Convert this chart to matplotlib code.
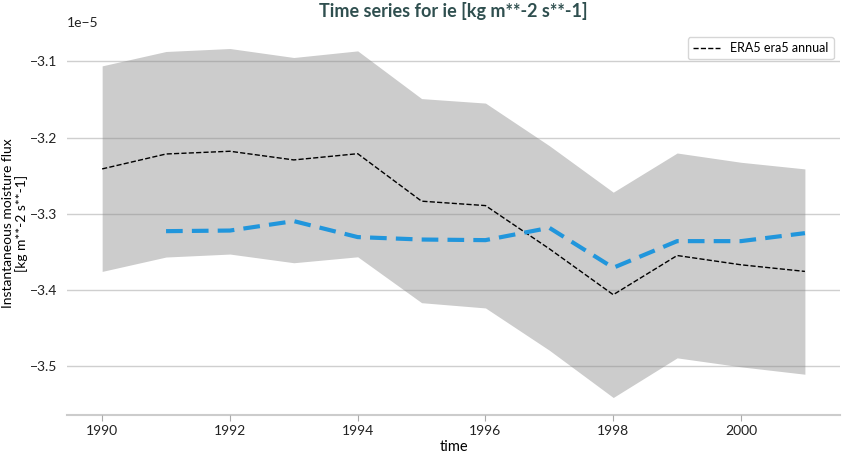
import matplotlib
matplotlib.use("Agg")
import matplotlib.pyplot as plt
import numpy as np

plt.rcParams['font.family'] = ['Lato', 'DejaVu Sans']

years = [1990, 1991, 1992, 1993, 1994, 1995, 1996, 1997, 1998, 1999, 2000, 2001]
era5 = [-3.2412, -3.2216, -3.2180, -3.2294, -3.2212, -3.2836, -3.2894, -3.3462,
        -3.4065, -3.3550, -3.3672, -3.3759]
band_upper = [-3.1058, -3.0869, -3.0830, -3.0948, -3.0861, -3.1488, -3.1547,
              -3.2107, -3.2718, -3.2203, -3.2325, -3.2412]
band_lower = [-3.3759, -3.3570, -3.3531, -3.3645, -3.3567, -3.4170, -3.4239,
              -3.4795, -3.5416, -3.4895, -3.5013, -3.5110]
model_years = [1991, 1992, 1993, 1994, 1995, 1996, 1997, 1998, 1999, 2000, 2001]
model = [-3.3230, -3.3222, -3.3098, -3.3308, -3.3340, -3.3348, -3.3186, -3.3711,
         -3.3361, -3.3361, -3.3256]
scale = 1e-5

fig = plt.figure(figsize=(8.43, 4.57), dpi=100)
ax = fig.add_axes([0.0795, 0.092, 0.917, 0.84])

ax.fill_between(years, np.array(band_lower) * scale, np.array(band_upper) * scale,
                color='#cccccc', linewidth=0, zorder=1)
ax.plot(years, np.array(era5) * scale, color='black', linestyle='--', linewidth=1,
        label='ERA5 era5 annual', zorder=3)
ax.plot(model_years, np.array(model) * scale, color='#2196dc', linestyle=(0, (4, 2.2)),
        linewidth=3, zorder=3)

ax.set_axisbelow(False)
ax.yaxis.grid(True, color='#888888', alpha=0.4, linewidth=1)
ax.xaxis.grid(False)
for s in ['left', 'right', 'top']:
    ax.spines[s].set_visible(False)
ax.spines['bottom'].set_color('#cccccc')
ax.spines['bottom'].set_linewidth(1.5)
ax.tick_params(axis='y', length=0, labelsize=10, labelcolor='#222222', pad=7)
ax.tick_params(axis='x', length=4, color='#aaaaaa', labelsize=10, labelcolor='#222222')
ax.set_xticks([1990, 1992, 1994, 1996, 1998, 2000])
ax.yaxis.get_offset_text().set_fontsize(10)

ax.set_xlabel('time', fontsize=10.5, labelpad=2)
ax.set_ylabel('Instantaneous moisture flux\n[kg m**-2 s**-1]', fontsize=10,
              linespacing=1.1)
ax.yaxis.set_label_coords(-0.05, 0.5)
ax.set_title('Time series for ie [kg m**-2 s**-1]', fontsize=13, fontweight='bold',
             color='#2f4f4f', pad=10)
ax.legend(loc='upper right', fontsize=9, frameon=True, fancybox=True,
          edgecolor='#cccccc', handlelength=2.2)

fig.savefig('out.png', dpi=100)
